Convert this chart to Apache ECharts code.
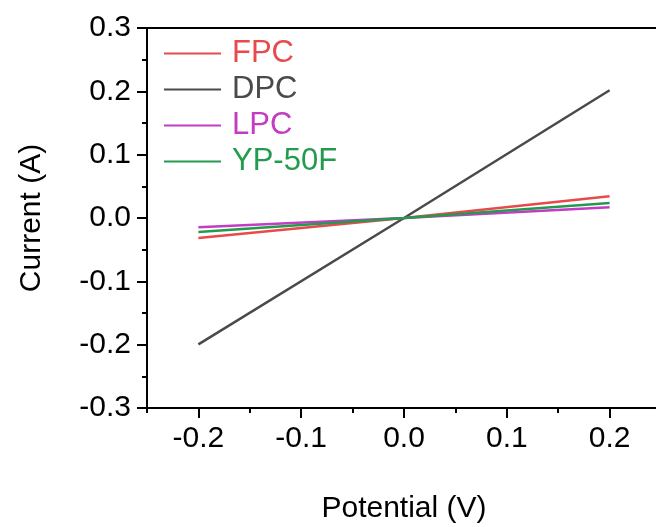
<!DOCTYPE html>
<html>
<head>
<meta charset="utf-8">
<script src="https://cdn.jsdelivr.net/npm/echarts@6/dist/echarts.min.js"></script>
<style>html,body{margin:0;padding:0;background:#fff;}#c{width:656px;height:527px;}</style>
</head>
<body>
<div id="c"></div>
<script>
const potential = [-0.2, 0.0, 0.2];
const FPC = [-0.0316, 0.0, 0.0343];
const DPC = [-0.1995, 0.0, 0.2017];
const LPC = [-0.0147, 0.0, 0.0169];
const YP50F = [-0.0220, 0.0, 0.0237];
const seriesNames = ['FPC', 'DPC', 'LPC', 'YP-50F'];
const seriesValues = [FPC, DPC, LPC, YP50F];
const colors = ['#e84a4c', '#4a4a4a', '#c23cc4', '#239a4e'];
const xMajorTicks = [-0.2, -0.1, 0.0, 0.1, 0.2];
const xMinorTicks = [-0.25, -0.15, -0.05, 0.05, 0.15, 0.25];

const font = 'Liberation Sans, Arial, sans-serif';
const chart = echarts.init(document.getElementById('c'), null, {renderer: 'canvas'});
const makeSeries = (name, vals, color) => ({
  name: name, type: 'line', xAxisIndex: 0, yAxisIndex: 0,
  data: potential.map((x, i) => [x, vals[i]]),
  symbol: 'none', lineStyle: {color: color, width: 2.5}, itemStyle: {color: color},
  animation: false
});
chart.setOption({
  animation: false,
  grid: {left: 147, top: 28, bottom: 119, width: 514, outerBoundsMode: 'none', show: true, borderColor: '#000', borderWidth: 2, backgroundColor: 'transparent'},
  legend: {
    orient: 'vertical', left: 164, top: 38, padding: 0, itemWidth: 57, itemHeight: 2, itemGap: 5, icon: 'rect',
    textStyle: {fontFamily: font, fontSize: 31, padding: [0, 0, 0, 6]},
    data: seriesNames.map((n, i) => ({name: n, itemStyle: {color: colors[i]}, textStyle: {color: colors[i]}}))
  },
  xAxis: [{
    type: 'value', min: -0.25, max: 0.25, position: 'bottom',
    name: 'Potential (V)', nameLocation: 'middle', nameGap: 86,
    nameTextStyle: {fontFamily: font, fontSize: 30, color: '#000'},
    axisLine: {show: true, onZero: false, lineStyle: {color: '#000', width: 2}},
    axisTick: {show: true, customValues: xMajorTicks, length: 10, lineStyle: {color: '#000', width: 2}},
    axisLabel: {customValues: xMajorTicks, margin: 16, fontFamily: font, fontSize: 30, color: '#000', formatter: v => v.toFixed(1)},
    splitLine: {show: false}
  }, {
    type: 'value', min: -0.25, max: 0.25, position: 'bottom',
    axisLine: {show: false, onZero: false},
    axisTick: {show: true, customValues: xMinorTicks, length: 5, lineStyle: {color: '#000', width: 2}},
    axisLabel: {show: false},
    splitLine: {show: false}
  }],
  yAxis: {
    type: 'value', min: -0.3, max: 0.3, interval: 0.1,
    name: 'Current (A)', nameLocation: 'middle', nameGap: 100, nameRotate: 90,
    nameTextStyle: {fontFamily: font, fontSize: 30, color: '#000'},
    axisLine: {show: true, onZero: false, lineStyle: {color: '#000', width: 2}},
    axisTick: {show: true, length: 10, lineStyle: {color: '#000', width: 2}},
    minorTick: {show: true, splitNumber: 2, length: 5, lineStyle: {color: '#000', width: 2}},
    axisLabel: {margin: 16, fontFamily: font, fontSize: 30, color: '#000', formatter: v => v.toFixed(1)},
    splitLine: {show: false}, minorSplitLine: {show: false}
  },
  series: seriesNames.map((n, i) => makeSeries(n, seriesValues[i], colors[i]))
});
</script>
</body>
</html>
